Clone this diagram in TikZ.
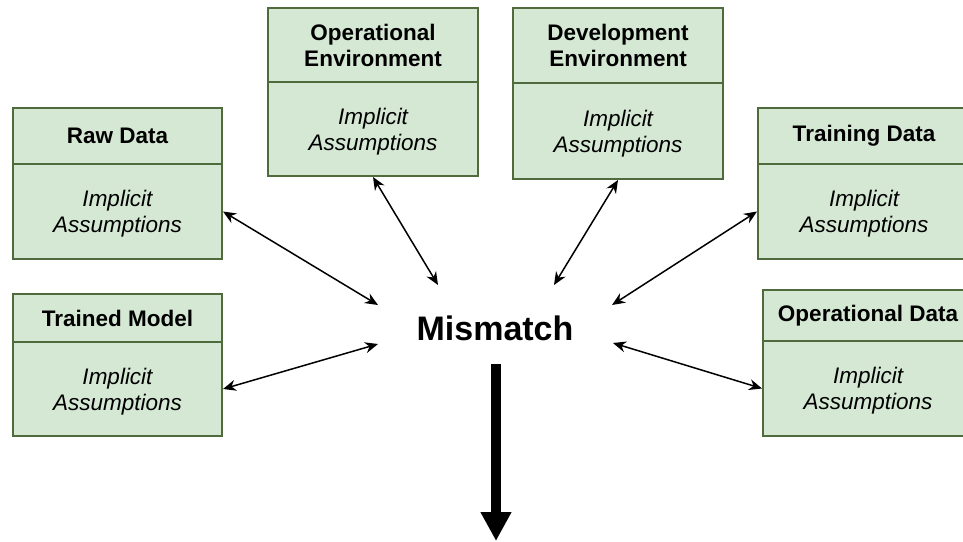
\documentclass[tikz,border=0pt]{standalone}
\usepackage{fontspec}
\setmainfont{Liberation Sans}
\usetikzlibrary{arrows.meta}
\definecolor{boxfill}{HTML}{D5E8D4}
\definecolor{boxline}{HTML}{4F6B3D}
\newcommand\hdfont{\bfseries\fontsize{22.5}{26}\selectfont}
\newcommand\bdfont{\itshape\fontsize{22.5}{26}\selectfont}
\begin{document}
\begin{tikzpicture}[x=1pt,y=-1pt,
  part/.style={draw=boxline, fill=boxfill, line width=2pt, inner sep=0pt,
               outer sep=0pt, align=center, anchor=north west},
  head/.style={part, font=\hdfont},
  body/.style={part, font=\bdfont, text depth=0pt},
  link/.style={line width=1.5pt,
               {Stealth[length=13pt,width=11pt]}-{Stealth[length=13pt,width=11pt]}},
  big/.style={line width=10pt, -{Triangle[length=29pt,width=29pt]}}]
\useasboundingbox (0,0) rectangle (963,541);
\clip (0,0) rectangle (963,541);

% Raw Data
\node[head, minimum width=209, minimum height=56] (rawH) at (13,108) {Raw Data};
\node[body, minimum width=209, minimum height=95] (rawB) at (rawH.south west) {Implicit\\Assumptions};
% Trained Model
\node[head, minimum width=209, minimum height=48] (modH) at (13,294) {Trained Model};
\node[body, minimum width=209, minimum height=94] (modB) at (modH.south west) {Implicit\\Assumptions};
% Operational Environment
\node[head, minimum width=210, minimum height=74] (openvH) at (268,8) {Operational\\Environment};
\node[body, minimum width=210, minimum height=94] (openvB) at (openvH.south west) {Implicit\\Assumptions};
% Development Environment
\node[head, minimum width=210, minimum height=75] (devenvH) at (513,8) {Development\\Environment};
\node[body, minimum width=210, minimum height=96] (devenvB) at (devenvH.south west) {Implicit\\Assumptions};
% Training Data
\node[head, minimum width=212, minimum height=56] (trainH) at (758,108) {Training Data};
\node[body, minimum width=212, minimum height=95] (trainB) at (trainH.south west) {Implicit\\Assumptions};
% Operational Data
\node[head, minimum width=210, minimum height=51] (opdataH) at (763,290) {Operational Data};
\node[body, minimum width=210, minimum height=95] (opdataB) at (opdataH.south west) {Implicit\\Assumptions};

% central label
\node[font=\bfseries\fontsize{34}{40}\selectfont, inner sep=0pt] (mm) at (495,328.5) {Mismatch};

% ends of the connectors around the label
\coordinate (mRaw) at (378,305);
\coordinate (mMod) at (378,344);
\coordinate (mOpEnv) at (438,285);
\coordinate (mDevEnv) at (554,285);
\coordinate (mTrain) at (612,305);
\coordinate (mOpData) at (613,343);
\coordinate (mTop) at (496,364);
\coordinate (result) at (496,541);

\draw[link] ([xshift=1pt]rawB.east) -- (mRaw);
\draw[link] ([xshift=1pt]modB.east) -- (mMod);
\draw[link] ([yshift=-1pt]openvB.south) -- (mOpEnv);
\draw[link] ([yshift=-1pt]devenvB.south) -- (mDevEnv);
\draw[link] ([xshift=-1pt]trainB.west) -- (mTrain);
\draw[link] ([xshift=-1pt]opdataB.west) -- (mOpData);

\draw[big] (mTop) -- (result);
\end{tikzpicture}
\end{document}
